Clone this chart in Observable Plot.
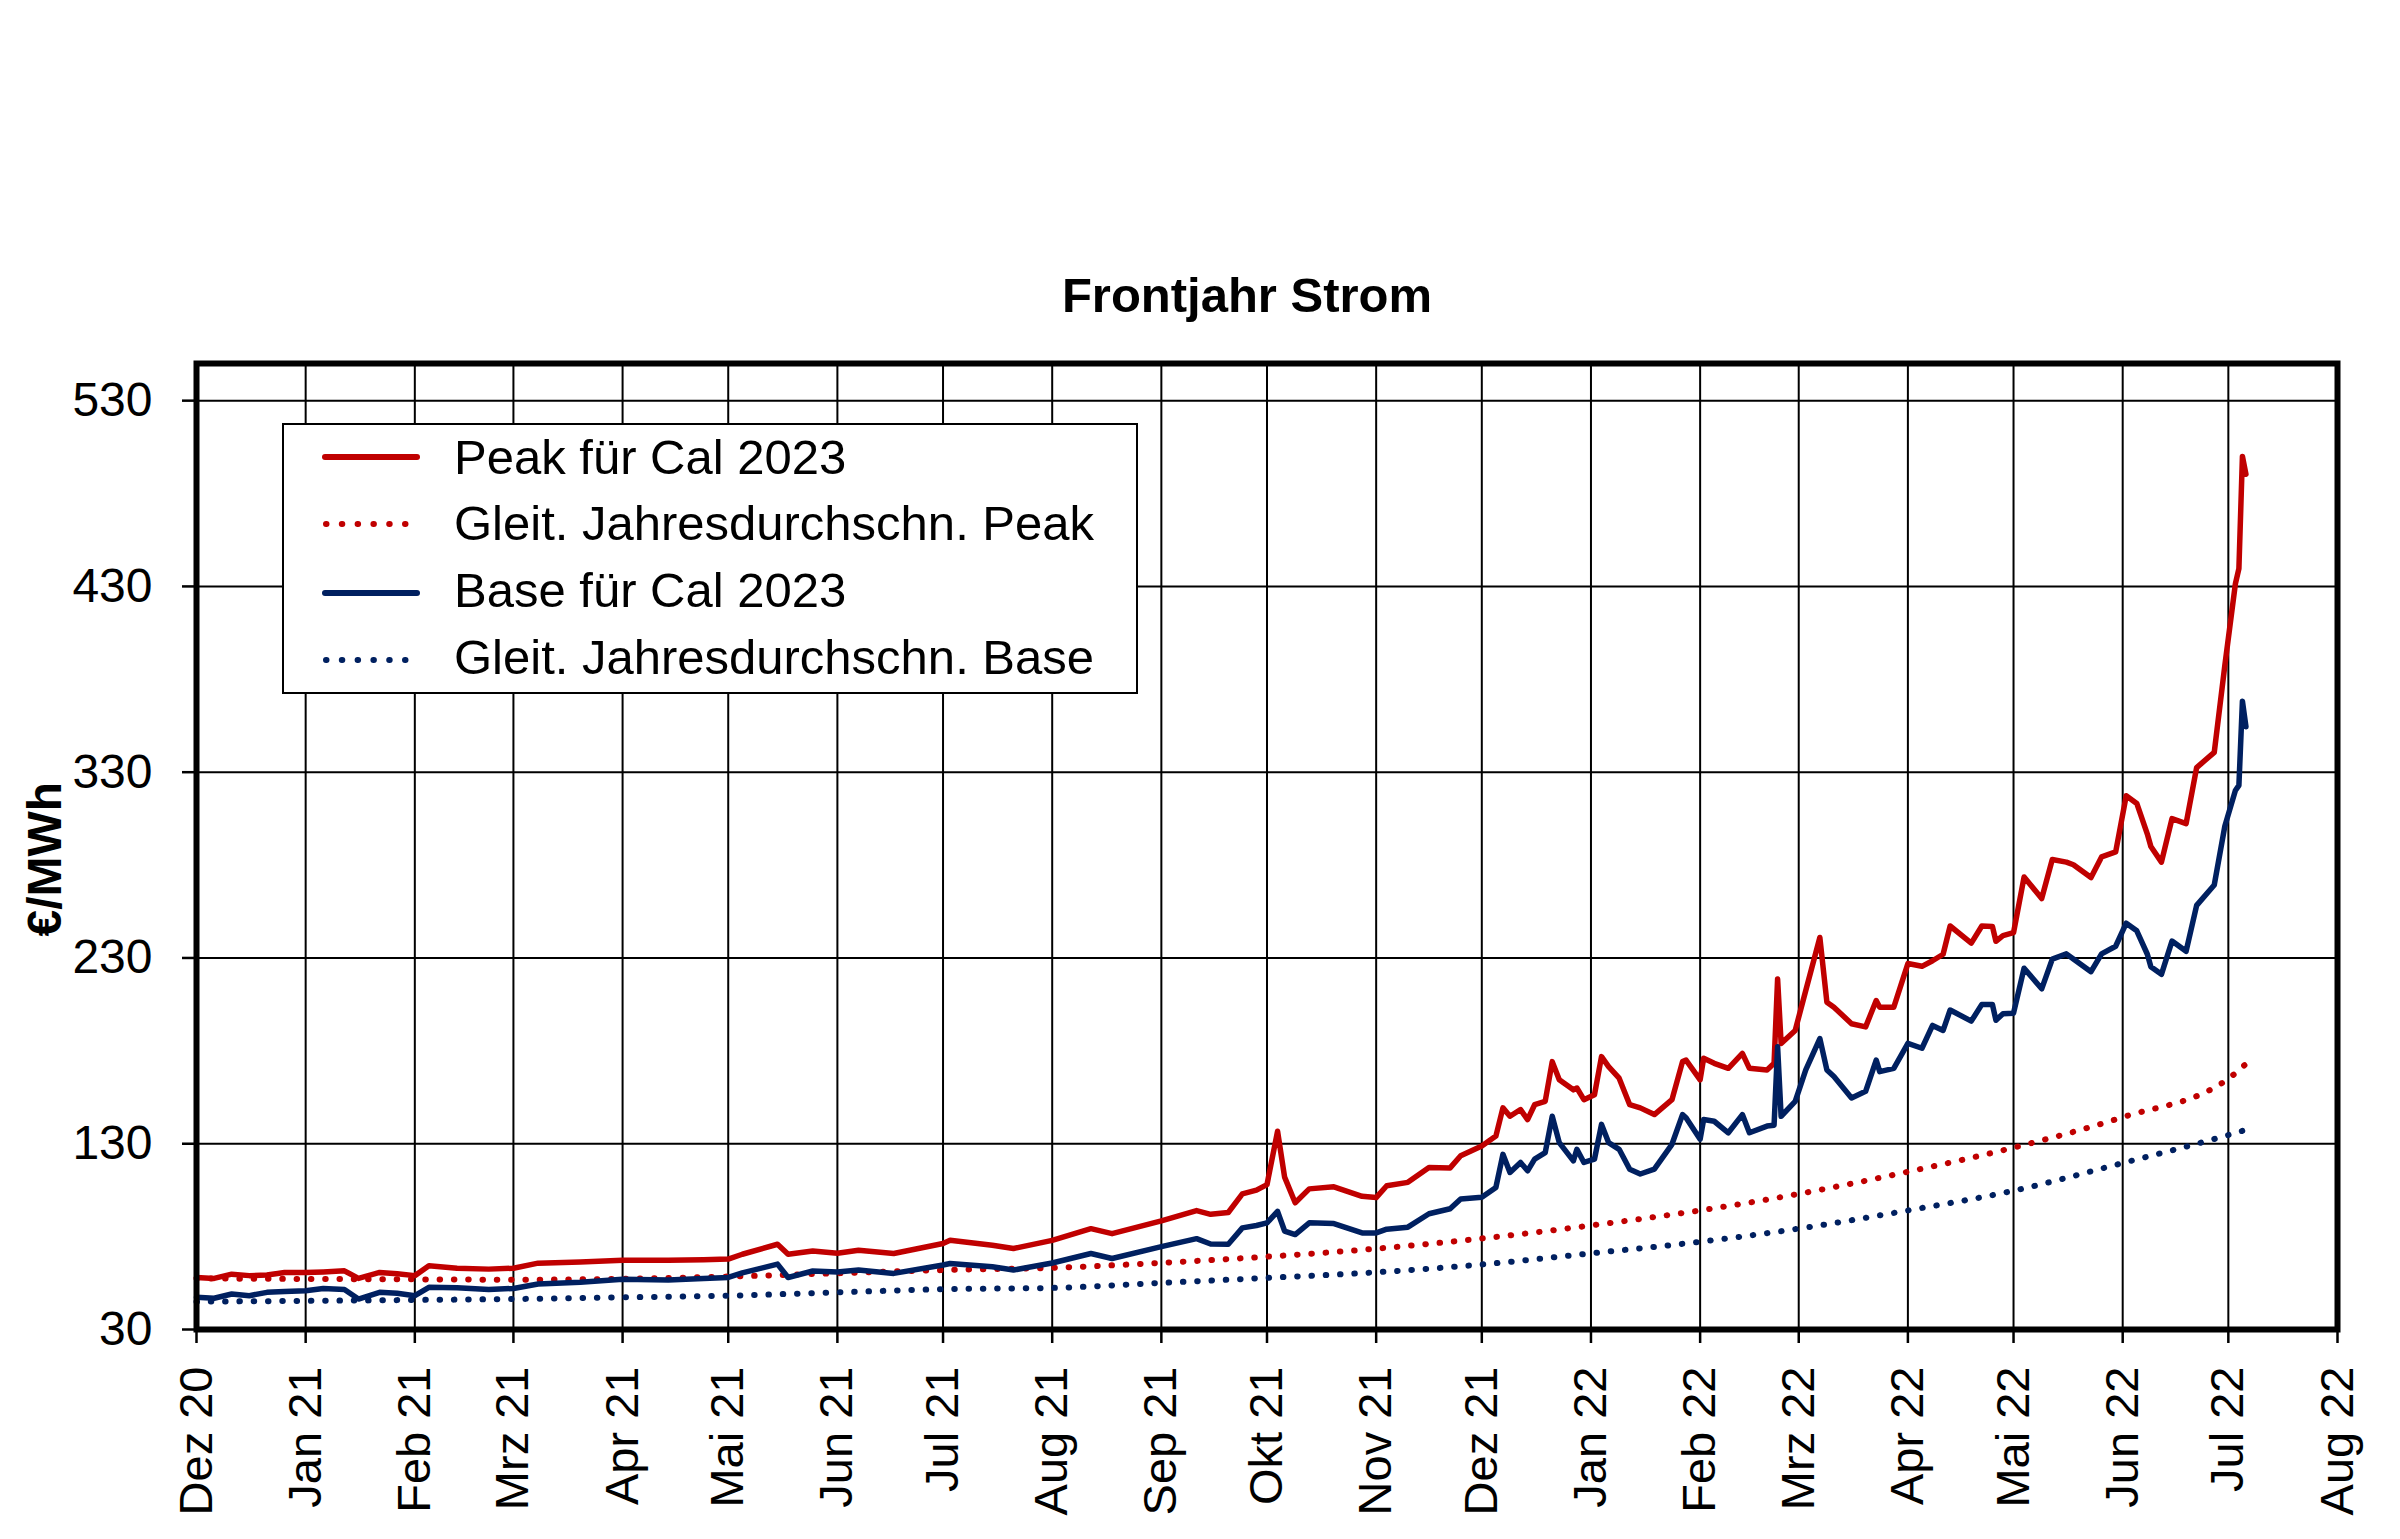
<!DOCTYPE html>
<html>
<head>
<meta charset="utf-8">
<script src="https://cdn.jsdelivr.net/npm/d3@7"></script>
<script src="https://cdn.jsdelivr.net/npm/@observablehq/plot@0.6"></script>
<style>
  html, body { margin: 0; padding: 0; background: #fff; }
  #wrap { position: relative; width: 2400px; height: 1539px; overflow: hidden; font-family: "Liberation Sans", Arial, sans-serif; }
  #legend { position: absolute; left: 282px; top: 423px; width: 856px; height: 271px; box-sizing: border-box; border: 2px solid #000; background: #fff; }
  #legend svg { position: absolute; left: -2px; top: -2px; }
</style>
</head>
<body>
<div id="wrap">
  <div id="chart"></div>
  <div id="legend"></div>
</div>
<script>
// ---------- data ----------
const dates = ["2020-12-01","2020-12-06","2020-12-11","2020-12-16","2020-12-21","2020-12-26",
"2021-01-01","2021-01-06","2021-01-12","2021-01-16","2021-01-22","2021-01-27",
"2021-02-01","2021-02-05","2021-02-13","2021-02-22","2021-03-01","2021-03-08","2021-03-20",
"2021-04-01","2021-04-14","2021-04-24","2021-05-01","2021-05-05","2021-05-15","2021-05-18","2021-05-25",
"2021-06-01","2021-06-07","2021-06-17","2021-07-01","2021-07-03","2021-07-15","2021-07-21",
"2021-08-01","2021-08-12","2021-08-18","2021-09-01","2021-09-11","2021-09-15","2021-09-20","2021-09-24","2021-09-28",
"2021-10-01","2021-10-04","2021-10-06","2021-10-09","2021-10-13","2021-10-20","2021-10-28",
"2021-11-01","2021-11-04","2021-11-10","2021-11-16","2021-11-22","2021-11-25",
"2021-12-01","2021-12-05","2021-12-07","2021-12-09","2021-12-12","2021-12-14","2021-12-16","2021-12-19","2021-12-21","2021-12-23","2021-12-27","2021-12-28","2021-12-30",
"2022-01-02","2022-01-04","2022-01-06","2022-01-09","2022-01-12","2022-01-15","2022-01-19","2022-01-24","2022-01-27","2022-01-28",
"2022-02-01","2022-02-02","2022-02-05","2022-02-09","2022-02-13","2022-02-15","2022-02-20","2022-02-22","2022-02-23","2022-02-24","2022-02-28",
"2022-03-03","2022-03-07","2022-03-09","2022-03-11","2022-03-16","2022-03-20","2022-03-23","2022-03-24","2022-03-28",
"2022-04-01","2022-04-05","2022-04-08","2022-04-11","2022-04-13","2022-04-19","2022-04-22","2022-04-25","2022-04-26","2022-04-28",
"2022-05-01","2022-05-04","2022-05-09","2022-05-12","2022-05-16","2022-05-18","2022-05-23","2022-05-26","2022-05-30",
"2022-06-02","2022-06-05","2022-06-08","2022-06-09","2022-06-12","2022-06-15","2022-06-19","2022-06-22","2022-06-27","2022-06-30",
"2022-07-03","2022-07-04","2022-07-05","2022-07-06"];

const peak = [58,57.5,59.8,59,59.3,60.7,
60.7,61,61.6,57.5,60.7,60,
59,64.3,63,62.5,63,65.7,66.4,
67.3,67.3,67.5,67.9,70.5,75.9,70.5,72.3,
71,72.7,70.9,76.3,78,75.4,73.6,
78,84.3,81.6,88.5,94,92,93,103,105,
108,136.7,112,98.2,105.7,106.8,101.7,
101,107.4,109.2,117.2,117,123.5,
128.8,134.1,149.3,144.8,148.4,143,151,152.8,174.2,164.4,159,160,153.7,
156.4,176.9,171.5,165.3,151,149.3,145.7,153.7,174.2,175,
164.4,176,173.3,170.6,178.6,170.6,169.7,173.3,218.7,184,191,
212.5,241,206.2,203.5,194.6,192.9,207.1,203.5,203.5,
227,225.5,228.5,232,247.2,238,247.2,247,239,242,
243.6,273.6,262,283,281.6,280.2,273.3,284.4,287.1,
317.3,313.2,296.7,290,281.6,305,302.3,332.5,340.7,387.4,
431.4,439.6,500,490.4];

const base = [47.3,46.8,49.1,48.2,50,50.4,
50.9,52.1,51.5,46.4,50,49.5,
48.2,52.7,52.5,51.5,52.1,54.5,55.4,
57.1,56.6,57.5,58,60.5,65.2,58,61.5,
61,62,60.2,64.7,65.5,63.8,62,
65.8,70.9,68.2,74.6,78.9,76,75.9,84.7,86,
87.4,93.6,83,81.1,87.4,87,82,
82,84,85.1,92.3,95,100.3,
101.2,106.5,124.3,114.5,119.9,115.4,121.7,125.2,144.8,130.6,120.8,127,119.9,
121.7,140.4,130.6,127,116.3,113.7,116.3,129.7,145.7,144,
132.4,143,142.1,135.9,145.7,135.9,139.5,140,182.2,144.8,152.8,
169.7,186.6,169.7,166.2,154.6,158.2,175,168.8,170.6,
184,181.4,193.7,191,202,196,205,205,196.5,200,
200.3,224.5,213.4,229.4,232.2,229.4,222.6,232.2,236.3,
248.7,244.6,232,225.3,221.2,239.1,233.6,258.3,269.3,300.9,
320.1,322.9,368.2,354.5];

// gleitender Jahresdurchschnitt
const maDates = ["2020-12-01","2021-01-01","2021-02-01","2021-03-01","2021-04-01","2021-05-01","2021-06-01",
"2021-07-01","2021-08-01","2021-09-01","2021-10-01","2021-11-01","2021-12-01","2022-01-01","2022-02-01",
"2022-03-01","2022-04-01","2022-05-01","2022-06-01","2022-07-01","2022-07-06"];
const peakMA = [57.5,57.2,57.0,56.8,57.3,58.5,60.3,62.0,63.2,65.9,69.2,73.5,79.0,86.0,94.1,103.0,114.9,127.9,144.3,165.0,173.0];
const baseMA = [45.0,45.4,45.9,46.4,47.3,48.2,50.0,51.7,52.4,55.1,57.8,60.8,65.0,71.0,77.2,84.3,94.1,104.7,119.6,134.7,137.5];

// axes
const monthTicks = ["2020-12-01","2021-01-01","2021-02-01","2021-03-01","2021-04-01","2021-05-01","2021-06-01",
"2021-07-01","2021-08-01","2021-09-01","2021-10-01","2021-11-01","2021-12-01","2022-01-01","2022-02-01",
"2022-03-01","2022-04-01","2022-05-01","2022-06-01","2022-07-01","2022-08-01"];
const monthLabels = ["Dez 20","Jan 21","Feb 21","Mrz 21","Apr 21","Mai 21","Jun 21","Jul 21","Aug 21","Sep 21",
"Okt 21","Nov 21","Dez 21","Jan 22","Feb 22","Mrz 22","Apr 22","Mai 22","Jun 22","Jul 22","Aug 22"];
const yTicks = [30,130,230,330,430,530];

const seriesNames = ["Peak für Cal 2023","Gleit. Jahresdurchschn. Peak","Base für Cal 2023","Gleit. Jahresdurchschn. Base"];
const RED = "#c00000", BLUE = "#002060";

// ---------- build ----------
const parse = d3.utcParse("%Y-%m-%d");
const table = dates.map((d, i) => ({date: parse(d), peak: peak[i], base: base[i]}));
const maTable = maDates.map((d, i) => ({date: parse(d), peak: peakMA[i], base: baseMA[i]}));
const tickDates = monthTicks.map(parse);
const labelMap = new Map(tickDates.map((d, i) => [+d, monthLabels[i]]));

const FONT = "'Liberation Sans', Arial, Helvetica, sans-serif";
const dotted = {strokeWidth: 6, strokeDasharray: "0.5,13.8", strokeLinecap: "round", curve: "monotone-x"};
const solid = {strokeWidth: 5.5, strokeLinejoin: "round", strokeLinecap: "round"};

const chart = Plot.plot({
  width: 2400,
  height: 1539,
  marginTop: 363,
  marginRight: 63,
  marginBottom: 210,
  marginLeft: 196,
  style: {fontFamily: FONT, fontSize: "48px", color: "#000", background: "#fff", overflow: "visible"},
  x: {type: "utc", domain: [tickDates[0], tickDates[tickDates.length - 1]]},
  y: {domain: [30, 550]},
  marks: [
    Plot.gridX(tickDates, {stroke: "#000", strokeOpacity: 1, strokeWidth: 2}),
    Plot.gridY(yTicks, {stroke: "#000", strokeOpacity: 1, strokeWidth: 2}),
    Plot.line(maTable, {x: "date", y: "peak", stroke: RED, ...dotted}),
    Plot.line(maTable, {x: "date", y: "base", stroke: BLUE, ...dotted}),
    Plot.line(table, {x: "date", y: "peak", stroke: RED, ...solid}),
    Plot.line(table, {x: "date", y: "base", stroke: BLUE, ...solid}),
    Plot.frame({stroke: "#000", strokeWidth: 6}),
    Plot.axisY(yTicks, {tickSize: 14, tickPadding: 30, strokeWidth: 2.5, label: null, fontSize: 48}),
    Plot.axisX(tickDates, {tickSize: 14, tickPadding: 23, tickRotate: -90, textAnchor: "end", lineAnchor: "middle",
      strokeWidth: 2.5, tickFormat: d => labelMap.get(+d), label: null, fontSize: 47}),
    Plot.text(["€/MWh"], {frameAnchor: "left", dx: -151, dy: 90, rotate: -90, lineAnchor: "middle",
      fontWeight: "bold", fontSize: 48}),
    Plot.text(["Frontjahr Strom"], {frameAnchor: "top", dx: -20, dy: -52, lineAnchor: "bottom",
      fontWeight: "bold", fontSize: 49})
  ]
});
document.getElementById("chart").appendChild(chart);

// ---------- legend ----------
const NS = "http://www.w3.org/2000/svg";
const lg = document.createElementNS(NS, "svg");
lg.setAttribute("width", 856);
lg.setAttribute("height", 271);
const rows = [
  {name: seriesNames[0], color: RED, dash: null, ly: 34, ty: 51},
  {name: seriesNames[1], color: RED, dash: "0.5,15.3", ly: 101, ty: 117},
  {name: seriesNames[2], color: BLUE, dash: null, ly: 170, ty: 184},
  {name: seriesNames[3], color: BLUE, dash: "0.5,15.3", ly: 237, ty: 251}
];
for (const r of rows) {
  const l = document.createElementNS(NS, "line");
  l.setAttribute("x1", r.dash ? 44 : 43);
  l.setAttribute("x2", 135);
  l.setAttribute("y1", r.ly);
  l.setAttribute("y2", r.ly);
  l.setAttribute("stroke", r.color);
  l.setAttribute("stroke-width", 6);
  l.setAttribute("stroke-linecap", "round");
  if (r.dash) l.setAttribute("stroke-dasharray", r.dash);
  lg.appendChild(l);
  const t = document.createElementNS(NS, "text");
  t.setAttribute("x", 172);
  t.setAttribute("y", r.ty);
  t.setAttribute("font-family", FONT);
  t.setAttribute("font-size", 49);
  t.setAttribute("fill", "#000");
  t.textContent = r.name;
  lg.appendChild(t);
}
document.getElementById("legend").appendChild(lg);
</script>
</body>
</html>
